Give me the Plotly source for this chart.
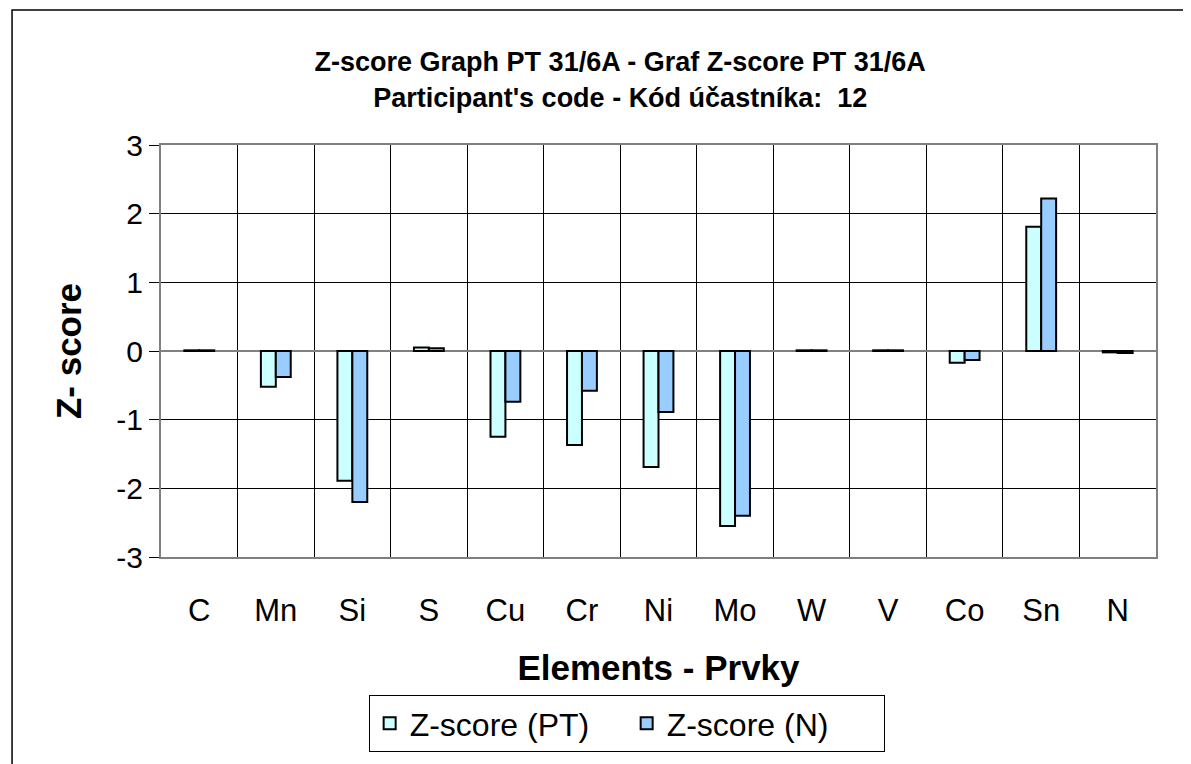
import plotly.graph_objects as go

elements = ["C", "Mn", "Si", "S", "Cu", "Cr", "Ni", "Mo", "W", "V", "Co", "Sn", "N"]
z_pt = [0.01, -0.52, -1.89, 0.05, -1.25, -1.37, -1.69, -2.55, 0.01, 0.01, -0.17, 1.81, -0.02]
z_n = [0.01, -0.38, -2.20, 0.04, -0.74, -0.58, -0.89, -2.40, 0.01, 0.01, -0.13, 2.22, -0.03]
y_ticks = [-3, -2, -1, 0, 1, 2, 3]
y_tick_text = ["-3", "-2", "-1", "0", "1", "2", "3"]

FONT = "Arial, Liberation Sans, sans-serif"

fig = go.Figure()
fig.add_trace(go.Bar(
    x=elements, y=z_pt, name="Z-score (PT)",
    marker=dict(color="#CCFFFF", line=dict(color="black", width=2)),
))
fig.add_trace(go.Bar(
    x=elements, y=z_n, name="Z-score (N)",
    marker=dict(color="#99CCFF", line=dict(color="black", width=2)),
))

# page body adds an 8px offset, margins are compensated for it
fig.update_layout(
    width=1191, height=764,
    margin=dict(l=153, r=43, t=137, b=215, autoexpand=False),
    paper_bgcolor="white", plot_bgcolor="white",
    barmode="group", bargap=0.61, bargroupgap=0,
    font=dict(family=FONT, color="black"),
    title=dict(
        text="Z-score Graph PT 31/6A - Graf Z-score PT 31/6A<br>Participant's code - Kód účastníka:  12",
        x=0.514, xanchor="center", y=0.917, yanchor="middle",
        font=dict(size=27, family=FONT, weight="bold"),
    ),
    legend=dict(
        orientation="h", x=0.468, xanchor="center", y=-0.335, yanchor="top",
        bordercolor="black", borderwidth=1, font=dict(size=32),
        entrywidth=212,
    ),
    showlegend=True,
)

fig.update_xaxes(
    type="category", tickson="boundaries",
    showgrid=True, gridcolor="black", gridwidth=1,
    showline=True, linecolor="#808080", linewidth=2, mirror=True,
    ticks="", tickfont=dict(size=31), ticklabelstandoff=25,
    title=dict(text="Elements - Prvky", font=dict(size=35, weight="bold"), standoff=28),
)
fig.update_yaxes(
    range=[-3, 3], tickvals=y_ticks, ticktext=y_tick_text,
    showgrid=True, gridcolor="black", gridwidth=1,
    zeroline=True, zerolinecolor="#808080", zerolinewidth=2,
    showline=True, linecolor="#808080", linewidth=2, mirror=True,
    ticks="outside", ticklen=10, tickcolor="black", tickfont=dict(size=30),
    title=dict(text="Z- score", font=dict(size=35, weight="bold"), standoff=24),
)

# outer chart frame
fig.add_shape(type="rect", xref="paper", yref="paper",
              x0=-0.1497, x1=1.05, y0=-0.6, y1=1.3277,
              line=dict(color="black", width=1.5), layer="below")

fig.write_html("out.html")
